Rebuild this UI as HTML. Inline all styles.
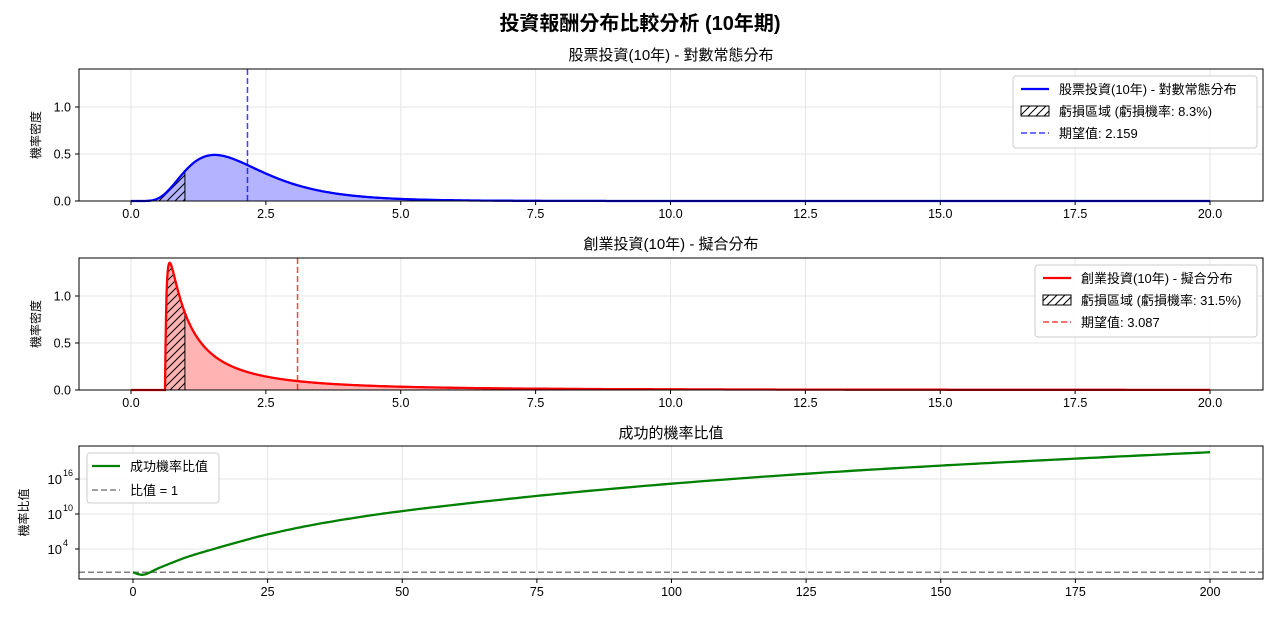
<!DOCTYPE html>
<html><head><meta charset="utf-8">
<style>
body{margin:0;background:#fff;}
svg text{font-family:"Liberation Sans","Noto Sans CJK TC",sans-serif;fill:#000;}
</style></head>
<body>
<svg id="s" width="1280" height="615" viewBox="0 0 1280 615" xmlns="http://www.w3.org/2000/svg">
<defs>
<pattern id="h" patternUnits="userSpaceOnUse" width="8" height="8">
<path d="M-2,10 L10,-2 M-2,2 L2,-2 M6,10 L10,6" stroke="#000" stroke-width="1"/>
</pattern>
</defs>
<text x="640" y="30" font-size="20" font-weight="bold" text-anchor="middle">投資報酬分布比較分析 (10年期)</text>
<g id="g"></g>
</svg>
<script>
(function(){
const g=document.getElementById('g');let o='';
function X1(x){return 131+x*53.95;}
const lo=0.659,sg=0.470;
function fb(x){if(x<=0)return 0;const l=Math.log(x);return Math.exp(-(l-lo)*(l-lo)/(2*sg*sg))/(x*sg*2.5066);}
function fr(x){const d=x-0.63;if(d<=0)return 0;const m=-0.343,s=1.45,l=Math.log(d);return 1.22*Math.exp(-(l-m)*(l-m)/(2*s*s))/(d*s*2.5066);}
function panel(tp,bot,title,f,color,fill,mean,leg){
  const H=bot-tp;const Y=v=>bot-v*(94);
  for(let t=0;t<=20;t+=2.5){o+=`<line x1="${X1(t)}" x2="${X1(t)}" y1="${tp}" y2="${bot}" stroke="#e6e6e6"/>`;
    o+=`<line x1="${X1(t)}" x2="${X1(t)}" y1="${bot}" y2="${bot+4}" stroke="#000"/><text x="${X1(t)}" y="${bot+17}" font-size="12.5" text-anchor="middle">${t.toFixed(1)}</text>`;}
  for(const t of [0,0.5,1.0]){o+=`<line x1="79" x2="1263" y1="${Y(t)}" y2="${Y(t)}" stroke="#e6e6e6"/><line x1="75" x2="79" y1="${Y(t)}" y2="${Y(t)}" stroke="#000"/><text x="71" y="${Y(t)+4.5}" font-size="12.5" text-anchor="end">${t.toFixed(1)}</text>`;}
  let pts=[];for(let i=0;i<=2000;i++){const x=i*0.01;pts.push([X1(x),Y(f(x))]);}
  let line='M'+pts.map(p=>p[0].toFixed(1)+','+p[1].toFixed(1)).join('L');
  o+=`<path d="${line}L${X1(20)},${bot}L${X1(0)},${bot}Z" fill="${fill}"/>`;
  let hp=pts.filter((p,i)=>i<=100);
  o+=`<path d="M${hp.map(p=>p[0].toFixed(1)+','+p[1].toFixed(1)).join('L')}L${X1(1)},${bot}Z" fill="url(#h)" stroke="#000" stroke-width="1"/>`;
  o+=`<path d="${line}" fill="none" stroke="${color}" stroke-width="2.3"/>`;
  o+=`<line x1="${X1(mean)}" x2="${X1(mean)}" y1="${tp}" y2="${bot}" stroke="${color}" stroke-opacity="0.75" stroke-width="1.5" stroke-dasharray="6,3"/>`;
  o+=`<rect x="79" y="${tp}" width="1184" height="${H}" fill="none" stroke="#000"/>`;
  o+=`<text x="671" y="${tp-9}" font-size="15" text-anchor="middle">${title}</text>`;
  o+=`<text transform="translate(40,${(tp+bot)/2}) rotate(-90)" font-size="12" text-anchor="middle">機率密度</text>`;
  const [lx,lw,t1,t2,t3]=leg;
  o+=`<rect x="${lx}" y="${tp+7}" width="${lw}" height="72" rx="3" fill="#fff" fill-opacity="0.85" stroke="#ccc"/>`;
  o+=`<line x1="${lx+8}" x2="${lx+36}" y1="${tp+20}" y2="${tp+20}" stroke="${color}" stroke-width="2.3"/><text x="${lx+46}" y="${tp+25}" font-size="13">${t1}</text>`;
  o+=`<rect x="${lx+8}" y="${tp+37}" width="28" height="10" fill="url(#h)" stroke="#000"/><text x="${lx+46}" y="${tp+47}" font-size="13">${t2}</text>`;
  o+=`<line x1="${lx+8}" x2="${lx+36}" y1="${tp+64}" y2="${tp+64}" stroke="${color}" stroke-opacity="0.75" stroke-width="1.5" stroke-dasharray="6,3"/><text x="${lx+46}" y="${tp+69}" font-size="13">${t3}</text>`;
}
panel(69,201,'股票投資(10年) - 對數常態分布',fb,'#0000ff','#b3b3ff',2.159,[1013,244,'股票投資(10年) - 對數常態分布','虧損區域 (虧損機率: 8.3%)','期望值: 2.159']);
panel(258,390,'創業投資(10年) - 擬合分布',fr,'#ff0000','#ffb3b3',3.087,[1035,222,'創業投資(10年) - 擬合分布','虧損區域 (虧損機率: 31.5%)','期望值: 3.087']);
const tp=446,bot=579;const X3=x=>133+x*5.385;const Y3=d=>572.3-d*5.83;
for(let t=0;t<=200;t+=25){o+=`<line x1="${X3(t)}" x2="${X3(t)}" y1="${tp}" y2="${bot}" stroke="#e6e6e6"/><line x1="${X3(t)}" x2="${X3(t)}" y1="${bot}" y2="${bot+4}" stroke="#000"/><text x="${X3(t)}" y="${bot+17}" font-size="12.5" text-anchor="middle">${t}</text>`;}
for(const d of [4,10,16]){o+=`<line x1="79" x2="1263" y1="${Y3(d)}" y2="${Y3(d)}" stroke="#e6e6e6"/><line x1="75" x2="79" y1="${Y3(d)}" y2="${Y3(d)}" stroke="#000"/><text x="62" y="${Y3(d)+5}" font-size="13" text-anchor="end">10</text><text x="63" y="${Y3(d)-3}" font-size="9">${d}</text>`;}
o+=`<line x1="79" x2="1263" y1="572.3" y2="572.3" stroke="#808080" stroke-width="1.5" stroke-dasharray="6,3"/>`;
const kp=[[0,0],[2,-0.4],[5,0.8],[10,2.6],[15,4.0],[20,5.3],[25,6.5],[35,8.4],[50,10.5],[75,13.1],[100,15.2],[125,16.9],[150,18.3],[175,19.5],[200,20.6]];
// catmull-rom sampling
let sp=[];
for(let i=0;i<kp.length-1;i++){const p0=kp[Math.max(0,i-1)],p1=kp[i],p2=kp[i+1],p3=kp[Math.min(kp.length-1,i+2)];
 for(let k=0;k<20;k++){const t=k/20,t2=t*t,t3=t2*t;
  const f=(a,b,c,d)=>0.5*((2*b)+(-a+c)*t+(2*a-5*b+4*c-d)*t2+(-a+3*b-3*c+d)*t3);
  sp.push([f(p0[0],p1[0],p2[0],p3[0]),f(p0[1],p1[1],p2[1],p3[1])]);}}
sp.push(kp[kp.length-1]);
o+=`<path d="M${sp.map(p=>X3(p[0]).toFixed(1)+','+Y3(p[1]).toFixed(1)).join('L')}" fill="none" stroke="#008000" stroke-width="2.3" stroke-linejoin="round"/>`;
o+=`<rect x="79" y="${tp}" width="1184" height="${bot-tp}" fill="none" stroke="#000"/>`;
o+=`<text x="671" y="${tp-8}" font-size="15" text-anchor="middle">成功的機率比值</text>`;
o+=`<text transform="translate(28,${(tp+bot)/2}) rotate(-90)" font-size="12" text-anchor="middle">機率比值</text>`;
o+=`<rect x="87" y="453" width="132" height="50" rx="3" fill="#fff" fill-opacity="0.85" stroke="#ccc"/>`;
o+=`<line x1="92" x2="120" y1="466" y2="466" stroke="#008000" stroke-width="2.3"/><text x="130" y="471" font-size="13">成功機率比值</text>`;
o+=`<line x1="92" x2="120" y1="490" y2="490" stroke="#808080" stroke-width="1.5" stroke-dasharray="6,3"/><text x="130" y="495" font-size="13">比值 = 1</text>`;
g.innerHTML=o;
})();
</script>
</body></html>
